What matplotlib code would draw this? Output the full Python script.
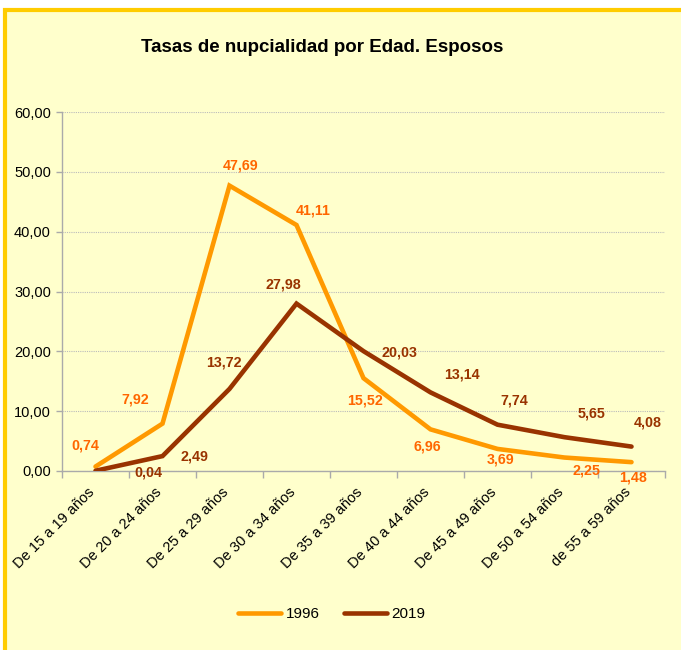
import matplotlib
matplotlib.use("Agg")
import matplotlib.pyplot as plt
from matplotlib.patches import Rectangle
from matplotlib.ticker import FixedLocator, NullFormatter
from matplotlib.transforms import ScaledTranslation

plt.rcParams['font.family'] = ['Liberation Sans', 'DejaVu Sans']

categories = ["De 15 a 19 años", "De 20 a 24 años", "De 25 a 29 años",
              "De 30 a 34 años", "De 35 a 39 años", "De 40 a 44 años",
              "De 45 a 49 años", "De 50 a 54 años", "de 55 a 59 años"]
v1996 = [0.74, 7.92, 47.69, 41.11, 15.52, 6.96, 3.69, 2.25, 1.48]
v2019 = [0.04, 2.49, 13.72, 27.98, 20.03, 13.14, 7.74, 5.65, 4.08]
yticks = [0, 10, 20, 30, 40, 50, 60]

# label offsets in pixels (dx, dy up)
off1996 = [(-10, 21), (-27, 24), (11, 20), (17, 15), (2, -22), (-3, -17), (3, -11), (22, -13), (2, -15)]
off2019 = [(53, -2), (32, 0), (-6, 26), (-13, 19), (36, -1), (31, 18), (17, 24), (27, 24), (16, 24)]

W, H = 681, 650
fig = plt.figure(figsize=(W / 100, H / 100), dpi=100, facecolor="white")
bg = Rectangle((5 / W, -0.1), 1.2, (H - 10) / H + 0.1, transform=fig.transFigure,
               facecolor="#FFFFCC", edgecolor="#FFCC00", linewidth=3, zorder=-10)
fig.patches.append(bg)

ax = fig.add_axes([62 / W, 1 - 471 / H, (665 - 62) / W, (471 - 112) / H])
ax.set_facecolor("none")
ax.set_zorder(1)
x = list(range(len(categories)))
c1996_line, c1996_lab = "#FF9900", "#FF6600"
c2019_line, c2019_lab = "#993300", "#993300"
ax.plot(x, v1996, color=c1996_line, lw=3.3, solid_capstyle="round", solid_joinstyle="miter", label="1996", zorder=3)
ax.plot(x, v2019, color=c2019_line, lw=3.3, solid_capstyle="round", solid_joinstyle="miter", label="2019", zorder=3)

def fmt(v):
    return f"{v:.2f}".replace(".", ",")

for xi, v, (dx, dy) in zip(x, v1996, off1996):
    ax.annotate(fmt(v), (xi, v), xytext=(dx, dy), textcoords="offset pixels",
                ha="center", va="center", fontsize=10.3, fontweight="bold", color=c1996_lab, zorder=4)
for xi, v, (dx, dy) in zip(x, v2019, off2019):
    ax.annotate(fmt(v), (xi, v), xytext=(dx, dy), textcoords="offset pixels",
                ha="center", va="center", fontsize=10.3, fontweight="bold", color=c2019_lab, zorder=4)

ax.set_xlim(-0.5, len(categories) - 0.5)
ax.set_ylim(0, 60)
ax.set_yticks(yticks)
ax.set_yticklabels([fmt(t) for t in yticks], fontsize=10.5)
ax.yaxis.grid(True, color="#BBBBBB", linestyle=(0, (1, 1)), linewidth=0.8)
ax.set_axisbelow(True)

ax.set_xticks(x)
ax.set_xticklabels(categories, rotation=45, ha="right", va="center", rotation_mode="anchor", fontsize=10.5)
ax.tick_params(axis="x", which="major", length=0, pad=13.5)
shift = ScaledTranslation(-3 / 100, 0, fig.dpi_scale_trans)
for lab in ax.get_xticklabels():
    lab.set_transform(lab.get_transform() + shift)
ax.xaxis.set_minor_locator(FixedLocator([i - 0.5 for i in range(len(categories) + 1)]))
ax.xaxis.set_minor_formatter(NullFormatter())
ax.tick_params(axis="x", which="minor", length=5, color="#AAAAAA", width=1)
ax.tick_params(axis="y", length=4, color="#AAAAAA", width=1, pad=4)

for s in ["top", "right"]:
    ax.spines[s].set_visible(False)
for s in ["left", "bottom"]:
    ax.spines[s].set_color("#AAAAAA")
    ax.spines[s].set_linewidth(1)

fig.text(322 / W, 1 - 47 / H, "Tasas de nupcialidad por Edad. Esposos", ha="center", va="center",
         fontsize=13.5, fontweight="bold", color="black")

leg = fig.legend(loc="center", bbox_to_anchor=(332 / W, 1 - 614 / H), ncol=2, frameon=False,
                 fontsize=11, handlelength=2.8, handletextpad=0.3, columnspacing=1.6)

fig.savefig("out.png", dpi=100, facecolor=fig.get_facecolor())
